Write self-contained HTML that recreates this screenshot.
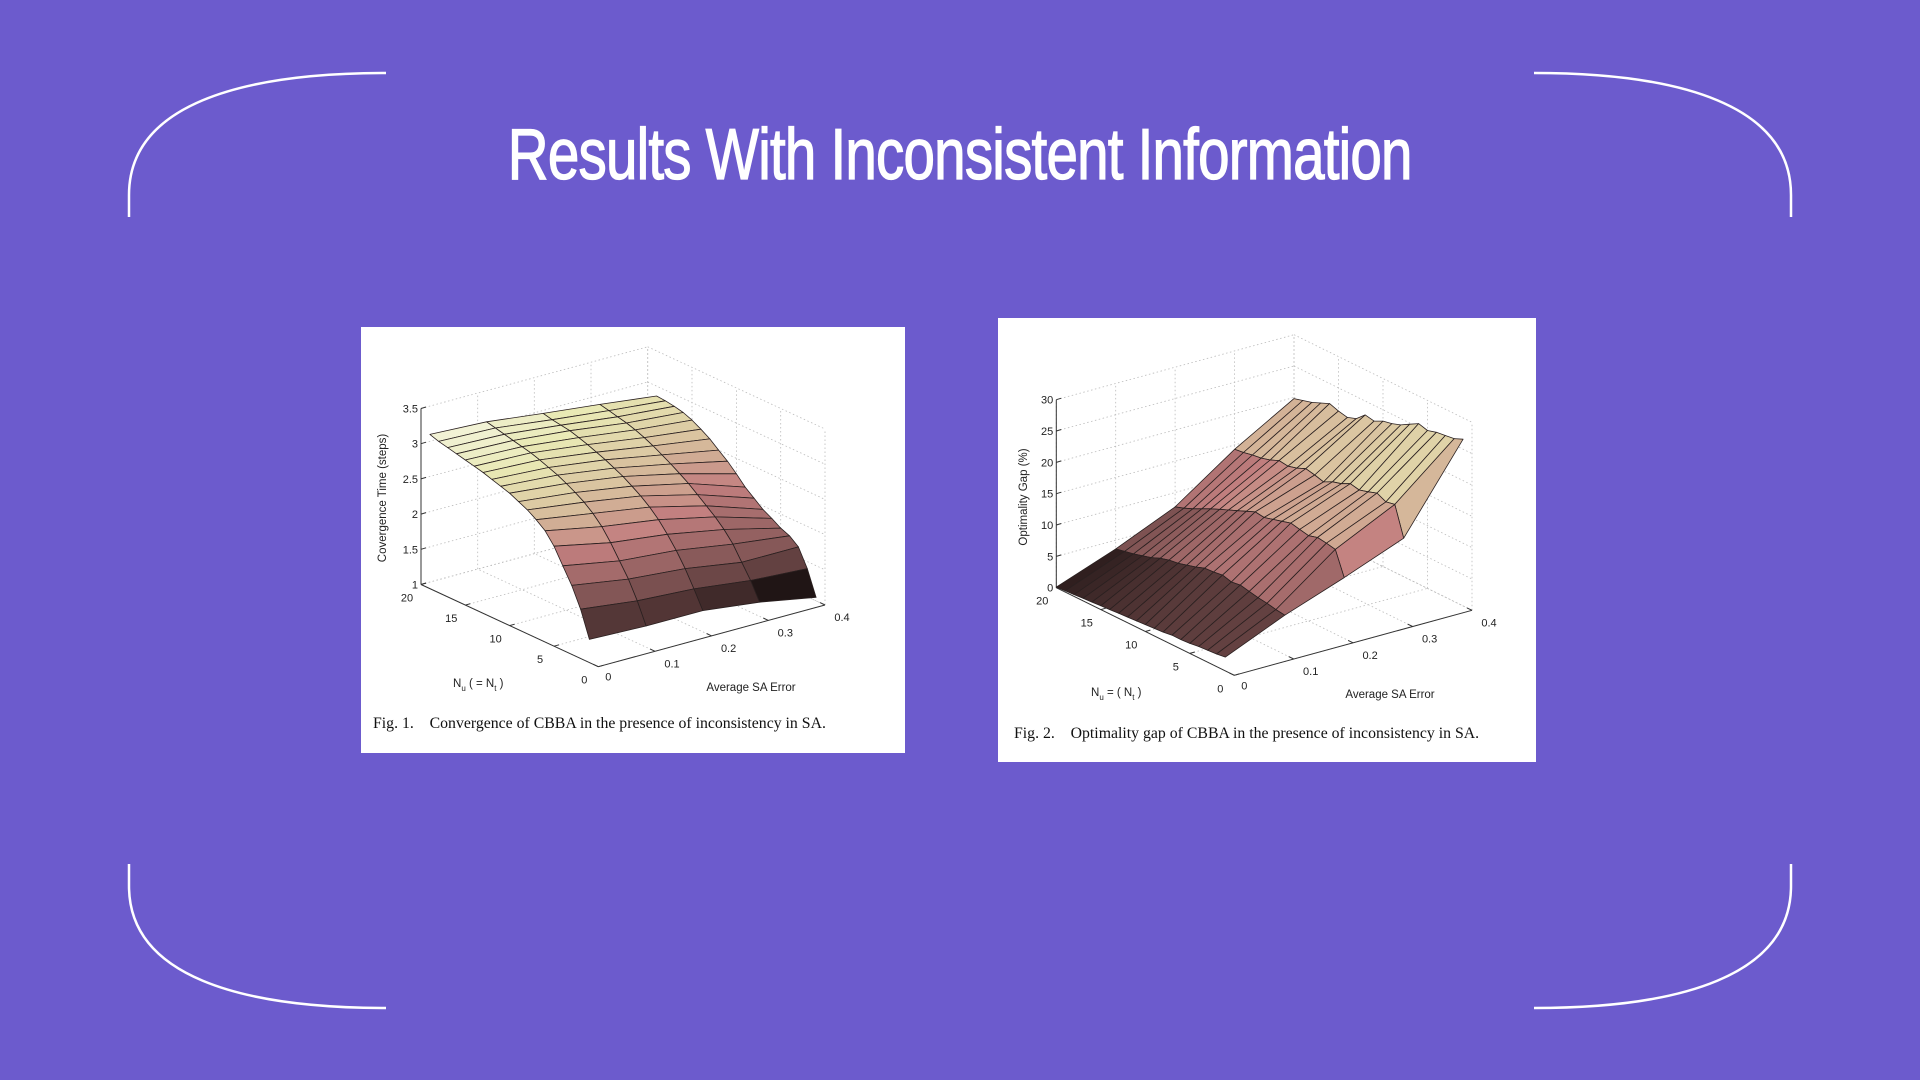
<!DOCTYPE html>
<html><head><meta charset="utf-8"><title>Results With Inconsistent Information</title>
<style>
html,body{margin:0;padding:0;width:1920px;height:1080px;overflow:hidden;background:#6c5bcd;}
svg{position:absolute;left:0;top:0;}
#title{position:absolute;left:0;top:114px;width:1920px;text-align:center;white-space:nowrap;}
#title span{display:inline-block;font-family:"Liberation Sans Narrow","Liberation Sans",sans-serif;font-weight:normal;font-size:72px;color:#fff;-webkit-text-stroke:1.3px #fff;transform-origin:center;letter-spacing:-1px;}
</style></head>
<body>
<svg id="main" width="1920" height="1080" viewBox="0 0 1920 1080">
  <g fill="none" stroke="#fff" stroke-width="2.5">
    <path d="M129,217 L129,195 C129,105 240,73 386,73"/>
    <path d="M1791,217 L1791,195 C1791,105 1680,73 1534,73"/>
    <path d="M129,864 L129,886 C129,976 240,1008 386,1008"/>
    <path d="M1791,864 L1791,886 C1791,976 1680,1008 1534,1008"/>
  </g>
  <rect x="361" y="327" width="544" height="426" fill="#fff"/>
  <rect x="998" y="318" width="538" height="444" fill="#fff"/>
  <g id="fig1"></g>
  <g id="fig2"></g>
  <text x="373" y="728" font-family="'Liberation Serif',serif" font-size="15.8" fill="#111">Fig. 1.&#160;&#160;&#160;&#160;Convergence of CBBA in the presence of inconsistency in SA.</text>
  <text x="1014" y="738" font-family="'Liberation Serif',serif" font-size="15.8" fill="#111">Fig. 2.&#160;&#160;&#160;&#160;Optimality gap of CBBA in the presence of inconsistency in SA.</text>
</svg>
<div id="title"><span id="titleText">Results With Inconsistent Information</span></div>
<script>
// ---------- Figure 1 data ----------
const fig1Errors = [0, 0.1, 0.2, 0.3, 0.4];
const fig1N = [1,2,3,4,5,6,7,8,9,10,11,12,13,14,15,16,17,18,19];
const fig1ColE0  = [1.33,1.7,1.98,2.2,2.42,2.58,2.68,2.76,2.82,2.88,2.92,2.96,3.0,3.03,3.06,3.09,3.12,3.15,3.19];
const fig1ColE1  = [1.3,1.6,1.85,2.05,2.25,2.42,2.55,2.65,2.73,2.8,2.86,2.91,2.96,3.0,3.03,3.06,3.09,3.12,3.15];
const fig1ColE2  = [1.3,1.55,1.78,1.98,2.15,2.3,2.42,2.52,2.6,2.68,2.74,2.8,2.85,2.9,2.94,2.98,3.0,3.02,3.05];
const fig1ColE3  = [1.2,1.45,1.65,1.85,2.0,2.12,2.22,2.32,2.42,2.5,2.58,2.65,2.72,2.78,2.83,2.87,2.9,2.93,2.96];
const fig1ColE4  = [1.05,1.4,1.65,1.75,1.8,1.88,1.95,2.05,2.15,2.28,2.4,2.5,2.6,2.68,2.75,2.8,2.83,2.85,2.86];
const fig1ZTicks = [1,1.5,2,2.5,3,3.5];
const fig1ZLabels = ["1","1.5","2","2.5","3","3.5"];
const fig1NTicks = [0,5,10,15,20];
const fig1ETicks = [0,0.1,0.2,0.3,0.4];
const fig1ELabels = ["0","0.1","0.2","0.3","0.4"];

// ---------- Figure 2 data ----------
const fig2Errors = [0, 0.1, 0.2, 0.3, 0.4];
const fig2N = [1,2,3,4,5,6,7,8,9,10,11,12,13,14,15,16,17,18,19,20];
const fig2ColE0 = [2.2,2.0,1.9,1.8,1.6,1.5,1.5,1.3,1.2,1.1,1.0,0.9,0.8,0.7,0.6,0.5,0.4,0.3,0.2,0.1];
const fig2ColE1 = [6.3,6.5,6.8,7.0,7.3,7.6,7.4,7.8,7.6,7.5,7.0,6.6,6.2,6.0,5.6,5.0,4.6,4.2,3.9,3.6];
const fig2ColE2 = [9.7,13.5,13.8,14.0,13.6,13.9,14.2,13.8,13.4,13.0,13.2,12.6,12.0,11.4,10.8,10.2,9.5,8.8,8.2,7.7];
const fig2ColE3 = [13.4,18.1,17.8,18.5,18.0,17.6,17.9,17.2,16.8,16.1,16.5,16.8,16.2,15.8,16.0,15.4,15.0,14.8,14.5,14.3];
const fig2ColE4 = [26.6,26.0,25.8,25.6,25.2,25.6,24.8,24.0,23.5,23.2,22.5,22.8,21.5,21.0,21.3,21.8,21.2,20.6,20.2,19.8];
const fig2ZTicks = [0,5,10,15,20,25,30];
const fig2ZLabels = ["0","5","10","15","20","25","30"];
const fig2NTicks = [0,5,10,15,20];
const fig2ETicks = [0,0.1,0.2,0.3,0.4];
const fig2ELabels = ["0","0.1","0.2","0.3","0.4"];

const NS = "http://www.w3.org/2000/svg";
function el(tag, attrs, parent){
  const e = document.createElementNS(NS, tag);
  for (const k in attrs) e.setAttribute(k, attrs[k]);
  parent.appendChild(e);
  return e;
}
function pinkColor(t){
  t = Math.max(0, Math.min(1, t));
  const hr = Math.min(1, t/0.375), hg = Math.max(0, Math.min(1, (t-0.375)/0.375)), hb = Math.max(0, Math.min(1, (t-0.75)/0.25));
  const r = Math.sqrt((2*t+hr)/3), g = Math.sqrt((2*t+hg)/3), b = Math.sqrt((2*t+hb)/3);
  return "rgb(" + Math.round(r*255) + "," + Math.round(g*255) + "," + Math.round(b*255) + ")";
}

function drawChart(g, cfg){
  const P = (n, e, z) => [cfg.B[0] + cfg.dN[0]*n + cfg.dE[0]*e/cfg.eMax,
                          cfg.B[1] + cfg.dN[1]*n + cfg.dE[1]*e/cfg.eMax - (z - cfg.zMin)*cfg.zUnit];
  const nMax = 20, eMax = cfg.eMax, zMin = cfg.zMin, zMax = cfg.zMax;
  const grid = el("g", {stroke:"#bbb", "stroke-width":"0.8", "stroke-dasharray":"1.5,2.5", fill:"none"}, g);
  
  
  const line = (par, a, b) => el("line", {x1:a[0].toFixed(1), y1:a[1].toFixed(1), x2:b[0].toFixed(1), y2:b[1].toFixed(1)}, par);
  cfg.zTicks.forEach(z => { line(grid, P(nMax,0,z), P(nMax,eMax,z)); line(grid, P(nMax,eMax,z), P(0,eMax,z)); });
  cfg.eTicks.forEach(e => { line(grid, P(nMax,e,zMin), P(nMax,e,zMax)); line(grid, P(0,e,zMin), P(nMax,e,zMin)); });
  cfg.nTicks.forEach(n => { line(grid, P(n,eMax,zMin), P(n,eMax,zMax)); line(grid, P(n,0,zMin), P(n,eMax,zMin)); });

  const ax = el("g", {stroke:"#333", "stroke-width":"1", fill:"none"}, g);
  
  
  line(ax, P(nMax,0,zMin), P(nMax,0,zMax));
  line(ax, P(nMax,0,zMin), P(0,0,zMin));
  line(ax, P(0,0,zMin), P(0,eMax,zMin));
  const txt = el("g", {"font-family":"'Liberation Sans',sans-serif", "font-size":"11", fill:"#222"}, g);
  
  
  cfg.zTicks.forEach((z, i) => {
    const p = P(nMax,0,z);
    line(ax, p, [p[0]+5, p[1]-1.5]);
    const t = el("text", {x:(p[0]-3).toFixed(1), y:(p[1]+4).toFixed(1), "text-anchor":"end"}, txt);
    
    
    t.textContent = cfg.zLabels[i];
  });
  cfg.nTicks.forEach(n => {
    const p = P(n,0,zMin);
    line(ax, p, [p[0]+5, p[1]-1.4]);
    const t = el("text", {x:(p[0]-14).toFixed(1), y:(p[1]+17).toFixed(1), "text-anchor":"middle"}, txt);
    
    
    t.textContent = String(n);
  });
  cfg.eTicks.forEach((e, i) => {
    const p = P(0,e,zMin);
    line(ax, p, [p[0]-5, p[1]-2.4]);
    const t = el("text", {x:(p[0]+(i===0?10:17)).toFixed(1), y:(p[1]+(i===0?14:16)).toFixed(1), "text-anchor":"middle"}, txt);
    
    
    t.textContent = cfg.eLabels[i];
  });

  const cols = cfg.cols, Ns = cfg.Ns, Es = cfg.Es;
  let vmin = Infinity, vmax = -Infinity;
  cols.forEach(c => c.forEach(v => { vmin = Math.min(vmin, v); vmax = Math.max(vmax, v); }));
  const faces = [];
  for (let j = 0; j < Es.length-1; j++){
    for (let i = 0; i < Ns.length-1; i++){
      const q = [[Ns[i],Es[j],cols[j][i]],[Ns[i+1],Es[j],cols[j][i+1]],[Ns[i+1],Es[j+1],cols[j+1][i+1]],[Ns[i],Es[j+1],cols[j+1][i]]];
      const depth = (Ns[i]+Ns[i+1])/2/nMax + (Es[j]+Es[j+1])/2/eMax;
      const zs = q.map(v => v[2]);
      const zc = 0.7*Math.min.apply(null, zs) + 0.3*(zs[0]+zs[1]+zs[2]+zs[3])/4;
      faces.push({q, depth, zc});
    }
  }
  faces.sort((a,b) => b.depth - a.depth);
  const surf = el("g", {stroke:"#2a2020", "stroke-width":"0.8", "stroke-linejoin":"round"}, g);
  
  
  faces.forEach(f => {
    const pts = f.q.map(v => P(v[0], v[1], v[2]).map(x => x.toFixed(1)).join(",")).join(" ");
    const t = Math.pow(Math.max(0,(f.zc - vmin)/(vmax - vmin)), cfg.gamma) * cfg.tScale;
    const poly = el("polygon", {points:pts, fill:pinkColor(t)}, surf);
    
    
  });

  const zt = el("text", {x:cfg.zTitle[0], y:cfg.zTitle[1], "text-anchor":"middle", transform:"rotate(-90 "+cfg.zTitle[0]+" "+cfg.zTitle[1]+")", "font-family":"'Liberation Sans',sans-serif", "font-size":"11.5", fill:"#222"}, g);
  
  
  zt.textContent = cfg.zTitleText;
  const et = el("text", {x:cfg.eTitle[0], y:cfg.eTitle[1], "text-anchor":"middle", "font-family":"'Liberation Sans',sans-serif", "font-size":"11.5", fill:"#222"}, g);
  
  
  et.textContent = "Average SA Error";
  const nt = el("text", {x:cfg.nTitle[0], y:cfg.nTitle[1], "font-family":"'Liberation Sans',sans-serif", "font-size":"11.5", fill:"#222"}, g);
  
  
  cfg.nTitleParts.forEach(p => {
    const s = el("tspan", p.sub ? {"font-size":"8", dy:"4"} : {dy: p.up ? "-4" : "0"}, nt);
    s.textContent = p.t;
  });
}

drawChart(document.getElementById("fig1"), {
  B:[598.3,666.7], dN:[-8.865,-4.11], dE:[226.7,-61.7], eMax:0.4, zMin:1, zMax:3.5, zUnit:70.4, gamma:1.3, tScale:0.88,
  cols:[fig1ColE0,fig1ColE1,fig1ColE2,fig1ColE3,fig1ColE4], Ns:fig1N, Es:fig1Errors,
  zTicks:fig1ZTicks, zLabels:fig1ZLabels, nTicks:fig1NTicks, eTicks:fig1ETicks, eLabels:fig1ELabels,
  zTitle:[386,498], zTitleText:"Covergence Time (steps)", eTitle:[751,691], nTitle:[453,687],
  nTitleParts:[{t:"N"},{t:"u",sub:true},{t:" ( = N",up:true},{t:"t",sub:true},{t:" )",up:true}]
});
drawChart(document.getElementById("fig2"), {
  B:[1234.3,675.3], dN:[-8.9,-4.38], dE:[237.7,-65], eMax:0.4, zMin:0, zMax:30, zUnit:6.267, gamma:0.95, tScale:0.9,
  cols:[fig2ColE0,fig2ColE1,fig2ColE2,fig2ColE3,fig2ColE4], Ns:fig2N, Es:fig2Errors,
  zTicks:fig2ZTicks, zLabels:fig2ZLabels, nTicks:fig2NTicks, eTicks:fig2ETicks, eLabels:fig2ELabels,
  zTitle:[1027,497], zTitleText:"Optimality Gap (%)", eTitle:[1390,698], nTitle:[1091,696],
  nTitleParts:[{t:"N"},{t:"u",sub:true},{t:" = ( N",up:true},{t:"t",sub:true},{t:" )",up:true}]
});

const tt = document.getElementById("titleText");
const w = tt.getBoundingClientRect().width;
tt.style.transform = "scaleX(" + (904 / w).toFixed(3) + ")";
</script>
</body></html>
